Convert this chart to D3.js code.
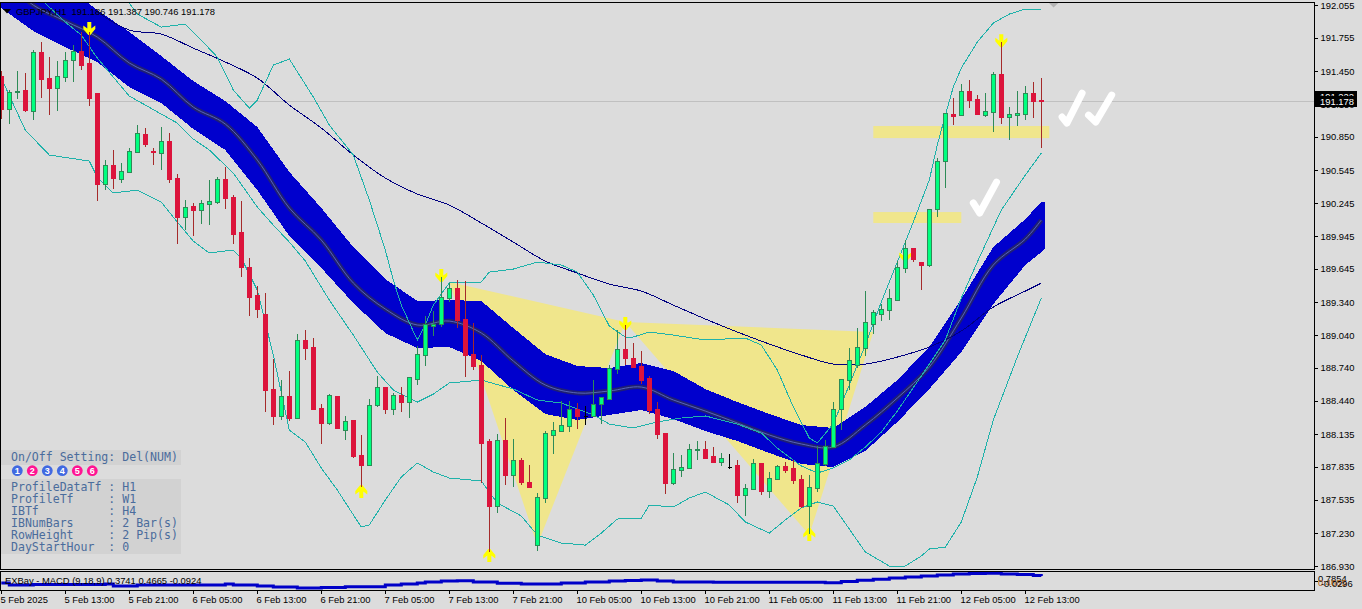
<!DOCTYPE html>
<html><head><meta charset="utf-8">
<script src="https://cdn.jsdelivr.net/npm/d3@7/dist/d3.min.js"></script>
<style>html,body{margin:0;padding:0;background:#dcdcdc;overflow:hidden}svg{display:block}
text{white-space:pre}</style></head><body><svg id="c" width="1362" height="609"></svg>
<script>
const opens=[191.406,191.105,191.261,191.279,191.087,191.626,191.388,191.297,191.397,191.553,191.635,191.526,191.251,190.420,190.594,190.466,190.530,190.713,190.877,190.722,190.704,190.813,190.475,190.118,190.219,190.182,190.237,190.256,190.466,190.301,189.982,189.662,189.406,189.232,188.547,188.301,188.483,188.282,188.995,188.931,188.374,188.237,188.483,188.172,188.264,187.944,187.852,188.401,188.565,188.364,188.492,188.428,188.638,188.857,189.122,189.140,189.378,189.470,189.186,188.866,188.766,188.072,187.478,188.081,187.761,187.898,187.698,187.121,187.551,188.126,188.163,188.209,188.364,188.301,188.301,188.410,188.456,188.730,188.912,188.830,188.757,188.648,188.364,188.145,187.689,187.807,187.825,187.990,187.999,187.935,187.880,187.834,187.852,187.578,187.633,187.871,187.615,187.725,187.843,187.825,187.725,187.478,187.643,187.861,188.017,188.364,188.629,188.766,188.922,189.140,189.232,189.269,189.360,189.653,189.835,189.708,189.680,190.191,190.630,191.059,191.050,191.270,191.196,191.050,191.078,191.425,191.032,191.050,191.059,191.251,191.186];
const highs=[191.452,191.279,191.452,191.434,191.644,191.717,191.580,191.544,191.626,191.690,191.809,191.809,191.251,190.639,190.731,190.612,190.749,190.959,190.932,190.749,190.941,190.886,190.512,190.274,190.247,190.274,190.457,190.484,190.575,190.319,190.265,189.744,189.488,189.424,188.821,188.629,188.711,189.049,189.086,189.013,188.410,188.501,188.483,188.301,188.264,188.127,188.456,188.666,188.565,188.511,188.565,188.657,188.940,189.214,189.260,189.570,189.516,189.543,189.534,189.150,188.857,188.090,188.135,188.282,188.090,187.917,187.853,187.597,188.163,188.246,188.438,188.438,188.420,188.392,188.629,188.474,188.766,189.086,189.131,188.967,188.894,188.666,188.428,188.145,187.962,187.944,188.044,188.072,188.072,188.017,187.963,187.953,187.898,187.679,187.908,187.871,187.789,187.852,187.880,187.898,187.761,187.761,188.026,188.081,188.428,188.638,188.922,189.104,189.442,189.269,189.324,189.461,189.717,189.908,189.835,189.708,190.191,190.658,191.069,191.205,191.333,191.370,191.233,191.251,191.443,191.717,191.123,191.270,191.315,191.352,191.387];
const lows=[191.014,190.968,191.196,191.078,191.005,191.205,191.050,191.087,191.352,191.352,191.461,191.132,190.265,190.365,190.374,190.429,190.530,190.713,190.758,190.594,190.548,190.429,189.871,190.000,189.945,190.054,190.045,190.237,190.191,189.871,189.570,189.214,189.196,188.337,188.218,188.264,188.255,188.282,188.812,188.355,188.044,188.218,188.191,188.081,187.917,187.652,187.852,188.383,188.319,188.310,188.337,188.282,188.583,188.757,189.031,189.113,189.342,189.104,188.657,188.721,187.689,187.058,187.415,187.670,187.652,187.670,187.652,187.067,187.506,187.953,188.163,188.154,188.181,188.218,188.301,188.227,188.456,188.684,188.766,188.748,188.592,188.319,188.090,187.587,187.670,187.743,187.825,187.898,187.917,187.880,187.843,187.816,187.506,187.387,187.624,187.578,187.551,187.725,187.780,187.679,187.460,187.222,187.606,187.843,188.017,188.172,188.538,188.739,188.848,189.049,189.168,189.177,189.351,189.607,189.708,189.452,189.662,190.118,190.383,190.959,191.050,191.114,191.050,191.032,190.895,190.968,190.822,190.950,191.005,191.023,190.746];
const closes=[191.105,191.261,191.270,191.096,191.626,191.379,191.297,191.406,191.553,191.635,191.507,191.205,190.420,190.594,190.475,190.539,190.722,190.886,190.785,190.713,190.813,190.466,190.118,190.210,190.182,190.247,190.265,190.466,190.292,189.963,189.662,189.387,189.278,188.538,188.301,188.483,188.282,188.995,188.922,188.364,188.237,188.492,188.191,188.255,187.935,187.852,188.401,188.565,188.364,188.492,188.428,188.657,188.866,189.140,189.140,189.387,189.470,189.177,188.857,188.757,188.054,187.478,188.081,187.761,187.898,187.698,187.652,187.560,188.145,188.172,188.218,188.364,188.301,188.301,188.410,188.474,188.739,188.912,188.830,188.748,188.629,188.355,188.135,187.689,187.816,187.834,187.999,187.999,187.917,187.880,187.917,187.834,187.578,187.642,187.871,187.615,187.734,187.843,187.807,187.716,187.478,187.652,187.871,188.026,188.364,188.638,188.812,188.931,189.159,189.251,189.278,189.378,189.662,189.835,189.735,189.680,190.191,190.630,191.069,191.041,191.270,191.187,191.059,191.087,191.425,191.032,191.059,191.069,191.251,191.178,191.178];

const ribbonBars=[0,4,8,12,16,20,24,28,32,36,40,44,48,52,56,60,64,68,72,76,80,84,88,92,96,100,104,108,112,116,120,124,128,130,130.5];
const ribbonUpper=[192.603,192.421,192.238,192.010,191.809,191.589,191.361,191.178,190.941,190.530,190.201,189.844,189.552,189.351,189.360,189.351,189.104,188.866,188.757,188.739,188.785,188.712,188.547,188.428,188.319,188.218,188.191,188.383,188.629,188.931,189.369,189.844,190.100,190.256,190.256];
const ribbonLower=[192.028,191.818,191.671,191.535,191.306,191.160,190.923,190.731,190.365,189.945,189.653,189.333,189.058,188.922,188.931,188.803,188.538,188.319,188.264,188.310,188.355,188.273,188.163,188.072,187.962,187.862,187.834,187.981,188.246,188.547,188.885,189.324,189.680,189.798,189.835];
const ribbonMid=[192.329,192.055,191.909,191.763,191.526,191.379,191.123,190.968,190.639,190.201,189.908,189.516,189.278,189.132,189.168,189.059,188.803,188.584,188.511,188.529,188.565,188.447,188.346,188.237,188.127,188.045,188.017,188.218,188.465,188.748,189.196,189.680,189.917,190.091];

const slowBars=[12,16,20,24,28,32,36,40,44,48,52,56,60,64,68,72,76,80,84,88,92,96,100,104,108,112,116,120,124,128,130];
const slowMA=[191.991,191.827,191.790,191.662,191.535,191.388,191.142,190.932,190.685,190.475,190.329,190.228,190.064,189.890,189.716,189.607,189.506,189.442,189.314,189.187,189.068,188.958,188.858,188.775,188.775,188.839,188.931,189.077,189.296,189.442,189.515];

const upperBars=[16,17,20,23,25,27,29,31,32,34,36,39,41,44,46,48,49,50,52,53,54,56,60,61,64,67,70,72,74,76,78,79,81,84,88,93,95,97,99,101,102,104,106,108,110,112,114,116,117,118,119,120,122,124,126,128,130];
const upperBand=[192.074,191.973,191.854,191.882,191.735,191.580,191.279,191.114,191.187,191.507,191.562,191.215,190.959,190.685,190.274,189.817,189.543,189.314,188.995,189.132,189.314,189.516,189.525,189.616,189.643,189.707,189.680,189.616,189.406,189.123,189.022,189.022,189.068,189.040,188.995,189.013,188.949,188.721,188.383,188.100,188.054,188.228,188.584,188.949,189.342,189.707,190.073,190.457,190.776,191.050,191.306,191.480,191.717,191.891,191.973,192.019,192.010];

const middleBars=[5,6,8,10,12,14,16,20,22,24,26,29,32,34,36,38,41,44,47,49,52,54,56,60,64,67,70,74,76,79,82,85,88,92,95,97,100,102,104,106,108,110,112,115,118,120,122,125,128,130];
const middleBand=[192.110,192.037,191.900,191.781,191.571,191.397,191.224,191.059,190.977,190.831,190.731,190.520,190.210,190.045,189.890,189.717,189.360,189.040,188.702,188.538,188.428,188.501,188.602,188.629,188.547,188.447,188.419,188.310,188.227,188.191,188.246,188.282,188.301,188.227,188.145,188.008,187.844,187.780,187.825,187.898,188.017,188.154,188.346,188.666,188.995,189.378,189.707,190.182,190.502,190.703];

const lowerBars=[0,3,6,11,12,14,17,20,22,24,26,29,30,32,34,36,38,40,42,45,46,48,50,52,54,56,60,62,65,67,70,73,75,77,80,81,84,86,88,91,93,96,98,100,102,104,106,108,111,113,115,116,118,120,122,124,127,130];
const lowerBand=[191.388,190.913,190.685,190.630,190.484,190.338,190.365,190.255,190.073,189.899,189.790,189.817,189.744,189.452,188.858,188.172,188.063,187.825,187.624,187.286,187.305,187.533,187.743,187.871,187.789,187.734,187.707,187.506,187.387,187.213,187.140,187.121,187.231,187.359,187.368,187.487,187.469,187.551,187.606,187.487,187.332,187.231,187.350,187.460,187.515,187.478,187.268,187.058,186.930,186.930,187.021,187.085,187.103,187.332,187.743,188.264,188.840,189.378];

const patternOneBars=[56,67,78];
const patternOnePrices=[189.525,187.121,189.159];
const patternTwoBars=[78,101,109];
const patternTwoPrices=[189.159,187.213,189.068];

const zoneBarsStart=[109,109];
const zoneBarsEnd=[120,131];
const zoneTop=[190.164,190.950];
const zoneBottom=[190.064,190.840];

const tickOneBars=[121.5,122.3,124.4];
const tickOnePrices=[190.247,190.155,190.438];
const tickTwoBars=[132.6,133.2,135.1];
const tickTwoPrices=[191.032,190.977,191.251];
const tickThreeBars=[135.9,136.8,138.8];
const tickThreePrices=[191.050,190.986,191.233];

const arrowBars=[11,55,45,61,78,101,113,125];
const arrowPrices=[191.781,189.525,187.670,187.085,189.086,187.277,189.708,191.671];
const arrowDirs=["d","d","u","u","d","u","d","d"];

const macdBars=[0,1,4,13,14,17,27,28,29,32,34,37,40,43,48,50,52,53,55,57,59,62,65,70,73,76,78,80,82,84,89,103,105,107,109,111,113,115,117,119,121,123,125,127,129,130];
const macdValues=[-0.348,-0.554,-0.50,-0.45,-0.66,-0.554,-0.554,-0.45,-0.554,-0.66,-0.76,-0.863,-0.81,-0.73,-0.554,-0.448,-0.345,-0.243,-0.14,-0.11,-0.243,-0.38,-0.45,-0.345,-0.243,-0.14,-0.09,-0.04,-0.14,-0.243,-0.275,-0.317,-0.19,-0.07,0.035,0.17,0.27,0.37,0.477,0.58,0.63,0.65,0.58,0.53,0.426,0.373];

const priceTicks=[192.055,191.755,191.450,191.150,190.850,190.545,190.245,189.945,189.645,189.340,189.040,188.740,188.440,188.135,187.835,187.535,187.230,186.930];
const timeLabels=["5 Feb 2025","5 Feb 13:00","5 Feb 21:00","6 Feb 05:00","6 Feb 13:00","6 Feb 21:00","7 Feb 05:00","7 Feb 13:00","7 Feb 21:00","10 Feb 05:00","10 Feb 13:00","10 Feb 21:00","11 Feb 05:00","11 Feb 13:00","11 Feb 21:00","12 Feb 05:00","12 Feb 13:00"];
const timeTickBars=[0,8,16,24,32,40,48,56,64,72,80,88,96,104,112,120,128];
const titleLine="GBPJPY,H1  191.186 191.387 190.746 191.178";
const macdTitle="EXBay - MACD (9,18,9) 0.3741 0.4665 -0.0924";
const panelHeader="On/Off Setting: Del(NUM)";
const panelRows=["ProfileDataTf : H1","ProfileTf     : W1","IBTf          : H4","IBNumBars     : 2 Bar(s)","RowHeight     : 2 Pip(s)","DayStartHour  : 0"];
const panelButtons=["1","2","3","4","5","6"];
const panelButtonOn=[0,1,0,0,1,1];
const askPrice=191.222, bidPrice=191.178;

const W=1362,H=609,BG="#dcdcdc";
const AX='"Liberation Sans",Arial,sans-serif';
const svg=d3.select("#c");
svg.append("rect").attr("width",W).attr("height",H).attr("fill",BG);
const x=d3.scaleLinear().domain([0,130]).range([1.3,1041.3]);
const y=d3.scaleLinear().domain([186.93,192.055]).range([566,5.1]);
const ym=d3.scaleLinear().domain([0.7854,0.3741]).range([572,576]);

svg.append("clipPath").attr("id","mainClip").append("rect").attr("x",1).attr("y",3).attr("width",1313).attr("height",566);
svg.append("clipPath").attr("id","macdClip").append("rect").attr("x",1).attr("y",572).attr("width",1313).attr("height",18);
const g=svg.append("g").attr("clip-path","url(#mainClip)");

g.append("line").attr("x1",1).attr("x2",1314).attr("y1",Math.round(y(bidPrice))+0.5).attr("y2",Math.round(y(bidPrice))+0.5).attr("stroke","#c0c0c0");

const KH="#f0e68c";
[[patternOneBars,patternOnePrices],[patternTwoBars,patternTwoPrices]].forEach(([b,p])=>{
  g.append("polygon").attr("fill",KH).attr("points",b.map((v,i)=>x(v)+","+y(p[i])).join(" "));
});
zoneTop.forEach((t,i)=>{
  g.append("rect").attr("x",x(zoneBarsStart[i])).attr("width",x(zoneBarsEnd[i])-x(zoneBarsStart[i])).attr("y",y(t)).attr("height",y(zoneBottom[i])-y(t)).attr("fill",KH);
});

const ribbon=d3.area().x(d=>x(d.b)).y0(d=>y(d.l)).y1(d=>y(d.u));
g.append("path").datum(ribbonBars.map((b,i)=>({b,u:ribbonUpper[i],l:ribbonLower[i]}))).attr("d",ribbon).attr("fill","#0000cd").attr("shape-rendering","crispEdges");
const pts=(bs,vs)=>bs.map((b,i)=>[x(b),y(vs[i])]);
const line=d3.line();
const smooth=d3.line().curve(d3.curveCatmullRom.alpha(0.5));
const midPts=pts(ribbonBars.slice(0,ribbonMid.length),ribbonMid);
g.append("path").attr("d",smooth(midPts)).attr("fill","none").attr("stroke","#1f1f74").attr("stroke-width",4.5);
g.append("path").attr("d",smooth(midPts)).attr("fill","none").attr("stroke","#5866b6").attr("stroke-width",1);

g.append("path").attr("d",smooth(pts(slowBars,slowMA))).attr("fill","none").attr("stroke","#000080").attr("stroke-width",1).attr("shape-rendering","crispEdges");
[[upperBars,upperBand],[middleBars,middleBand],[lowerBars,lowerBand]].forEach(([b,v])=>{
  g.append("path").attr("d",line(pts(b,v))).attr("fill","none").attr("stroke","#20b2aa").attr("stroke-width",1).attr("shape-rendering","crispEdges");
});

const downShape=[[-2,-13],[2,-13],[2,-6.5],[6,-9.5],[6,-6],[1,0],[-1,0],[-6,-6],[-6,-9.5],[-2,-6.5]];
arrowBars.forEach((b,i)=>{
  const s=arrowDirs[i]==="d"?1:-1, cx=x(b), cy=y(arrowPrices[i]);
  g.append("polygon").attr("fill","#ffff00").attr("points",downShape.map(p=>(cx+p[0])+","+(cy+s*p[1])).join(" "));
});

const GF="#00ff7f",GS="#2e8b57",RF="#dc143c",RW="#a52a2a";
const cg=g.append("g").attr("shape-rendering","crispEdges");
opens.forEach((o,i)=>{
  const c=closes[i],up=c>o,flat=Math.abs(c-o)<0.0005;
  const px=Math.floor(x(i))+0.5;
  const black=flat;
  const wick=black?"#000":(up?GS:RW);
  cg.append("line").attr("x1",px).attr("x2",px).attr("y1",y(highs[i])).attr("y2",y(lows[i])).attr("stroke",wick);
  const top=y(Math.max(o,c)),bot=y(Math.min(o,c));
  if(black){
    cg.append("line").attr("x1",px-2).attr("x2",px+2).attr("y1",Math.round(top)+0.5).attr("y2",Math.round(top)+0.5).attr("stroke","#000");
  }else{
    const yt=Math.round(top)+0.5,h=Math.max(1,Math.round(bot-top));
    cg.append("rect").attr("x",px-2).attr("width",4).attr("y",yt).attr("height",h)
      .attr("fill",up?GF:RF).attr("stroke",up?GS:RF);
  }
});

[[tickOneBars,tickOnePrices],[tickTwoBars,tickTwoPrices],[tickThreeBars,tickThreePrices]].forEach(([b,p])=>{
  g.append("path").attr("d",d3.line().curve(d3.curveLinear)(pts(b,p))).attr("fill","none").attr("stroke","#fff").attr("stroke-width",7).attr("stroke-linecap","round").attr("stroke-linejoin","round");
});

svg.append("polygon").attr("fill","#b4b4b4").attr("points",[[x(131)-0.3,3],[x(132)+1,3],[x(131.5)+0.3,7.5]].map(p=>p.join(",")).join(" "));

svg.append("rect").attr("x",0.5).attr("y",2.5).attr("width",1314).attr("height",567).attr("fill","none").attr("stroke","#000");
svg.append("rect").attr("x",0.5).attr("y",571.5).attr("width",1314).attr("height",19).attr("fill","none").attr("stroke","#000");

const ax=d3.axisRight(y).tickValues(priceTicks).tickSize(3).tickPadding(3).tickFormat(d3.format(".3f"));
const axG=svg.append("g").attr("transform","translate(1314.5,0)").call(ax);
axG.select(".domain").remove();
axG.selectAll("line").attr("stroke","#000").attr("shape-rendering","crispEdges");
axG.selectAll("text").attr("font-family",AX).attr("font-size",9.4).attr("fill","#000");

const bidY=Math.round(y(bidPrice));
svg.append("rect").attr("x",1315).attr("y",bidY-10).attr("width",42).attr("height",16).attr("fill","#000");
svg.append("text").attr("x",1320).attr("y",bidY-1).attr("font-family",AX).attr("font-size",9.4).attr("fill","#fff").text(askPrice.toFixed(3));
svg.append("rect").attr("x",1315).attr("y",bidY-5).attr("width",42).attr("height",11).attr("fill","#000");
svg.append("text").attr("x",1320).attr("y",bidY+4).attr("font-family",AX).attr("font-size",9.4).attr("fill","#fff").text(bidPrice.toFixed(3));

const mg=svg.append("g").attr("clip-path","url(#macdClip)");
mg.append("path").attr("d",d3.line().curve(d3.curveStepAfter)(macdBars.map((b,i)=>[x(b),ym(macdValues[i])]))).attr("fill","none").attr("stroke","#0000c8").attr("stroke-width",3);
svg.append("text").attr("x",5).attr("y",584).attr("font-family",AX).attr("font-size",9.4).attr("fill","#000").text(macdTitle);
svg.append("line").attr("x1",1315).attr("x2",1318).attr("y1",581.5).attr("y2",581.5).attr("stroke","#000");
svg.append("text").attr("x",1318).attr("y",582).attr("font-family",AX).attr("font-size",9.4).attr("fill","#000").text("0.7854");
svg.append("text").attr("x",1318).attr("y",585.5).attr("font-family",AX).attr("font-size",9.4).attr("fill","#b8651a").text("0.4665");
svg.append("text").attr("x",1321).attr("y",586.5).attr("font-family",AX).attr("font-size",9.4).attr("fill","#000").text("-0.0296");

const tg=svg.append("g");
timeTickBars.forEach((b,i)=>{
  const px=Math.floor(x(b))+0.5;
  tg.append("line").attr("x1",px).attr("x2",px).attr("y1",590).attr("y2",594).attr("stroke","#000");
  tg.append("text").attr("x",px-1).attr("y",603).attr("font-family",AX).attr("font-size",9.4).attr("fill","#000").text(timeLabels[i]);
});

svg.append("polygon").attr("fill","#000").attr("points","3,9 11,9 7,13.5");
svg.append("text").attr("x",16).attr("y",14.5).attr("font-family",AX).attr("font-size",9.4).attr("fill","#000").text(titleLine);

const MONO='"DejaVu Sans Mono",monospace',TC="#4a6c9c";
svg.append("rect").attr("x",1).attr("y",450).attr("width",180).attr("height",15).attr("fill","#d2d2d2");
svg.append("rect").attr("x",1).attr("y",479).attr("width",180).attr("height",75).attr("fill","#d2d2d2");
svg.append("text").attr("x",11).attr("y",461).attr("font-family",MONO).attr("font-size",11.56).attr("fill",TC).text(panelHeader);
panelRows.forEach((r,i)=>svg.append("text").attr("x",11).attr("y",491+12*i).attr("font-family",MONO).attr("font-size",11.56).attr("fill",TC).text(r));
panelButtons.forEach((t,i)=>{
  const cx=17.3+15*i;
  svg.append("circle").attr("cx",cx).attr("cy",470.7).attr("r",5.4).attr("fill",panelButtonOn[i]?"#ff1493":"#4169e1");
  svg.append("text").attr("x",cx).attr("y",474).attr("text-anchor","middle").attr("font-family",AX).attr("font-size",9).attr("font-weight","bold").attr("fill","#fff").text(t);
});
</script></body></html>
